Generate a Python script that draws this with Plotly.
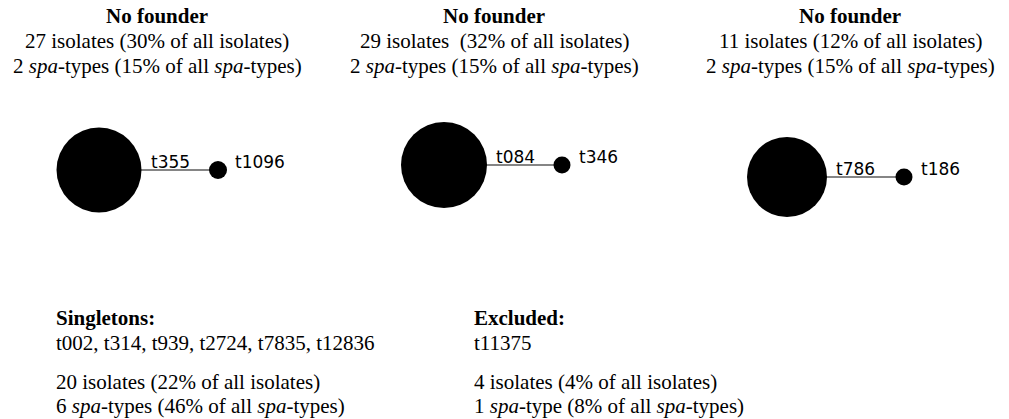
import plotly.graph_objects as go

# ---- data ----
group_titles = ["No founder", "No founder", "No founder"]
group_isolates = [27, 29, 11]
group_isolate_pct = [30, 32, 12]
group_spatypes = [2, 2, 2]
group_spatype_pct = [15, 15, 15]
founder_labels = ["t355", "t084", "t786"]
member_labels = ["t1096", "t346", "t186"]

singleton_types = ["t002", "t314", "t939", "t2724", "t7835", "t12836"]
singleton_isolates = 20
singleton_isolate_pct = 22
singleton_spatypes = 6
singleton_spatype_pct = 46

excluded_types = ["t11375"]
excluded_isolates = 4
excluded_isolate_pct = 4
excluded_spatypes = 1
excluded_spatype_pct = 8

# ---- layout (page-pixel space) ----
W, H = 1009, 419
big_x = [99, 444, 787]
node_y = [170, 165, 177]
small_x = [218, 562, 904]
big_d = [85, 86, 80]
small_d = [18, 17, 17]
header_x = [157, 494, 850]
header_y = [16, 41, 66]

serif = "Liberation Serif, Times New Roman, serif"
sans = "DejaVu Sans, Verdana, sans-serif"

fig = go.Figure()
for i in range(3):
    fig.add_trace(go.Scatter(x=[big_x[i], small_x[i]], y=[node_y[i], node_y[i]],
                             mode="lines", line=dict(color="#858585", width=2),
                             hoverinfo="skip", showlegend=False))
    fig.add_trace(go.Scatter(x=[big_x[i], small_x[i]], y=[node_y[i], node_y[i]],
                             mode="markers",
                             marker=dict(size=[big_d[i], small_d[i]], color="black",
                                         opacity=1, line=dict(width=0)),
                             hoverinfo="skip", showlegend=False))

ann = []
def txt(x, y, s, size=21, xanchor="center", font=serif):
    ann.append(dict(x=x, y=y, xref="x", yref="y", text=s, showarrow=False,
                    xanchor=xanchor, yanchor="middle", borderpad=0,
                    font=dict(family=font, size=size, color="black")))

for i in range(3):
    txt(header_x[i], header_y[0], f"<b>{group_titles[i]}</b>")
    sep = "  " if i == 1 else " "
    txt(header_x[i], header_y[1],
        f"{group_isolates[i]} isolates{sep}({group_isolate_pct[i]}% of all isolates)")
    txt(header_x[i], header_y[2],
        f"{group_spatypes[i]} <i>spa</i>-types ({group_spatype_pct[i]}% of all <i>spa</i>-types)")
    txt(big_x[i] + big_d[i] / 2 + 8, node_y[i] - 8, founder_labels[i], size=17,
        xanchor="left", font=sans)
    txt(small_x[i] + small_d[i] / 2 + 7, node_y[i] - 8, member_labels[i], size=17,
        xanchor="left", font=sans)

bottom_y = [318, 343, 382, 406]
lx, rx = 55, 473
txt(lx, bottom_y[0], "<b>Singletons:</b>", xanchor="left")
txt(lx, bottom_y[1], ", ".join(singleton_types), xanchor="left")
txt(lx, bottom_y[2], f"{singleton_isolates} isolates ({singleton_isolate_pct}% of all isolates)",
    xanchor="left")
txt(lx, bottom_y[3],
    f"{singleton_spatypes} <i>spa</i>-types ({singleton_spatype_pct}% of all <i>spa</i>-types)",
    xanchor="left")
txt(rx, bottom_y[0], "<b>Excluded:</b>", xanchor="left")
txt(rx, bottom_y[1], ", ".join(excluded_types), xanchor="left")
txt(rx, bottom_y[2], f"{excluded_isolates} isolates ({excluded_isolate_pct}% of all isolates)",
    xanchor="left")
txt(rx, bottom_y[3],
    f"{excluded_spatypes} <i>spa</i>-type ({excluded_spatype_pct}% of all <i>spa</i>-types)",
    xanchor="left")

fig.update_layout(
    width=W, height=H, margin=dict(l=0, r=0, t=0, b=0),
    paper_bgcolor="white", plot_bgcolor="white",
    xaxis=dict(range=[0, W], visible=False, fixedrange=True),
    yaxis=dict(range=[H, 0], visible=False, fixedrange=True),
    annotations=ann, showlegend=False,
)
fig.write_html("out.html", config={"displayModeBar": False},
               post_script="document.body.style.margin='0';")
